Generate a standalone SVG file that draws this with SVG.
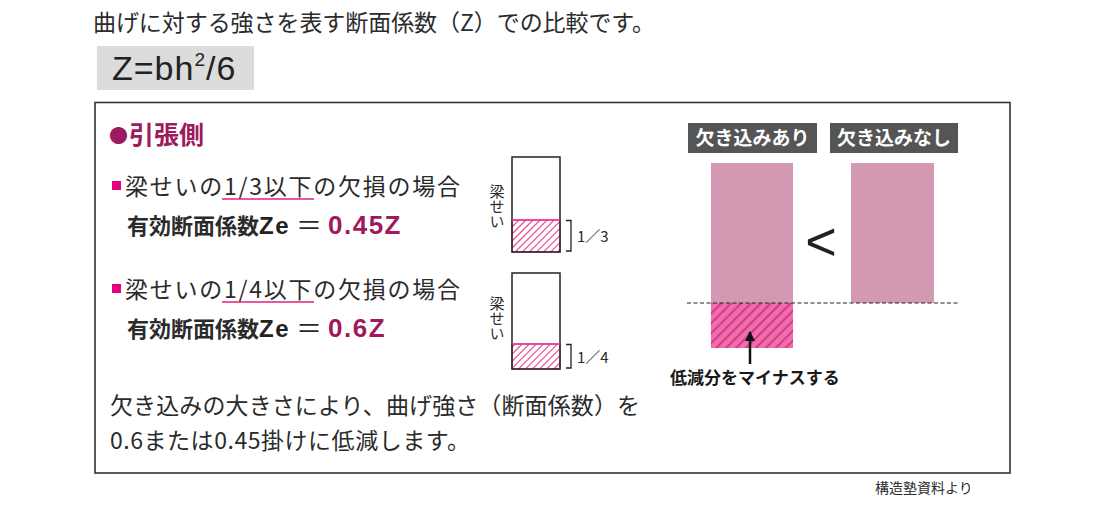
<svg xmlns="http://www.w3.org/2000/svg" width="1100" height="506" viewBox="0 0 1100 506">
<style>
.jp{font-family:"Noto Sans CJK JP","Noto Sans",sans-serif;fill:#2b2b2b}
.lat{font-family:"Liberation Sans",Arial,sans-serif}
.b{font-weight:700}
.mag{fill:#a0195c}
.beam{fill:none;stroke:#222;stroke-width:1.5}
.tag{fill:#555}
.tagt{font-family:"Noto Sans CJK JP",sans-serif;font-weight:700;font-size:19px;fill:#fff}
.pinkbar{fill:#d398b2}
.ul{stroke:#e0207f;stroke-width:1.5}
.vert{writing-mode:vertical-rl;font-family:"Noto Sans CJK JP",sans-serif;font-size:15px;fill:#2b2b2b}
</style>
<defs>
<pattern id="hatchS" patternUnits="userSpaceOnUse" width="5" height="5" patternTransform="rotate(45)">
<rect width="5" height="5" fill="#fff"/>
<line x1="2.5" y1="0" x2="2.5" y2="5" stroke="#e4388c" stroke-width="1.1"/>
</pattern>
<pattern id="hatchL" patternUnits="userSpaceOnUse" width="7" height="7" patternTransform="rotate(45)">
<rect width="7" height="7" fill="#ec70ab"/>
<line x1="3.5" y1="0" x2="3.5" y2="7" stroke="#d8237f" stroke-width="1.6"/>
</pattern>
<marker id="ah" markerWidth="10" markerHeight="10" refX="9" refY="5" orient="auto" markerUnits="userSpaceOnUse">
<path d="M0,0 L10,5 L0,10 Z" fill="#111"/>
</marker>
</defs>
<rect width="1100" height="506" fill="#fff"/>

<g id="title">
<text class="jp" x="93" y="31" font-size="23" textLength="562" lengthAdjust="spacing">曲げに対する強さを表す断面係数（Z）での比較です。</text>
</g>

<g id="formula">
<rect x="97" y="46" width="157" height="44" fill="#dcdcdc"/>
<text class="lat" x="112" y="80" font-size="34" letter-spacing="1" fill="#222">Z=bh<tspan font-size="19" dy="-14">2</tspan><tspan dy="14">/6</tspan></text>
</g>

<g id="frame">
<rect x="95" y="102.5" width="915" height="370.5" fill="none" stroke="#333" stroke-width="1.6"/>
</g>

<g id="heading">
<text class="jp b" x="109" y="143" font-size="19" style="fill:#9b1b5e">●</text>
<text class="jp b" x="129" y="144" font-size="25" style="fill:#9b1b5e">引張側</text>
</g>

<g id="case13">
<rect x="112" y="181" width="9" height="9" fill="#e4007f"/>
<text class="jp" x="125" y="195" font-size="23" textLength="335" lengthAdjust="spacing">梁せいの1/3以下の欠損の場合</text>
<line class="ul" x1="222" y1="199" x2="314" y2="199"/>
<text class="jp b" x="127" y="234" font-size="22">有効断面係数</text>
<text class="lat b" x="259" y="234" font-size="24" letter-spacing="1.5" fill="#222">Ze</text>
<text class="jp" x="296" y="235" font-size="26">＝</text>
<text class="lat b mag" x="328" y="234" font-size="26" letter-spacing="1.5">0.45Z</text>
</g>

<g id="case14">
<rect x="112" y="284" width="9" height="9" fill="#e4007f"/>
<text class="jp" x="125" y="298" font-size="23" textLength="335" lengthAdjust="spacing">梁せいの1/4以下の欠損の場合</text>
<line class="ul" x1="222" y1="302" x2="314" y2="302"/>
<text class="jp b" x="127" y="337" font-size="22">有効断面係数</text>
<text class="lat b" x="259" y="337" font-size="24" letter-spacing="1.5" fill="#222">Ze</text>
<text class="jp" x="296" y="338" font-size="26">＝</text>
<text class="lat b mag" x="328" y="337" font-size="26" letter-spacing="1.5">0.6Z</text>
</g>

<g id="summary">
<text class="jp" x="110" y="414" font-size="23" textLength="530" lengthAdjust="spacing">欠き込みの大きさにより、曲げ強さ（断面係数）を</text>
<text class="jp" x="110" y="449" font-size="23" textLength="360" lengthAdjust="spacing">0.6または0.45掛けに低減します。</text>
</g>

<g id="beam13">
<rect x="512" y="220" width="48" height="32" fill="url(#hatchS)" stroke="#e4388c" stroke-width="1.2"/>
<rect class="beam" x="512" y="157" width="48" height="95"/>
<line x1="512" y1="220" x2="560" y2="220" stroke="#e4388c" stroke-width="1.5"/>
<text class="vert" x="497" y="184">梁せい</text>
<path d="M566,220.5 H571 V251 H566" fill="none" stroke="#222" stroke-width="1.3"/>
<text class="jp" x="577" y="242" font-size="15">1／3</text>
</g>

<g id="beam14">
<rect x="512" y="344" width="48" height="25" fill="url(#hatchS)" stroke="#e4388c" stroke-width="1.2"/>
<rect class="beam" x="512" y="273" width="48" height="96"/>
<line x1="512" y1="344" x2="560" y2="344" stroke="#e4388c" stroke-width="1.5"/>
<text class="vert" x="497" y="296">梁せい</text>
<path d="M566,344.5 H571 V368 H566" fill="none" stroke="#222" stroke-width="1.3"/>
<text class="jp" x="577" y="363" font-size="15">1／4</text>
</g>

<g id="notched">
<rect class="tag" x="688" y="123" width="129" height="30"/>
<text class="tagt" x="752.5" y="145" text-anchor="middle">欠き込みあり</text>
<rect class="pinkbar" x="711" y="163" width="82" height="140"/>
<rect x="711" y="303" width="82" height="45" fill="url(#hatchL)"/>
</g>

<g id="compare">
<text class="lat" x="821" y="260" font-size="54" text-anchor="middle" fill="#222">&lt;</text>
</g>

<g id="unnotched">
<rect class="tag" x="830" y="123" width="128" height="30"/>
<text class="tagt" x="894" y="145" text-anchor="middle">欠き込みなし</text>
<rect class="pinkbar" x="851" y="163" width="83" height="140"/>
</g>

<g id="reduction-label">
<text class="jp b" x="670" y="384" font-size="17" style="fill:#1a1a1a">低減分をマイナスする</text>
</g>

<g id="connectors">
<line x1="687" y1="303" x2="960" y2="303" stroke="#222" stroke-width="1.2" stroke-dasharray="4,2.5"/>
<line x1="750" y1="364" x2="750" y2="332" stroke="#111" stroke-width="2.5" marker-end="url(#ah)"/>
</g>

<g id="source">
<text class="jp" x="875" y="493" font-size="14">構造塾資料より</text>
</g>
</svg>
